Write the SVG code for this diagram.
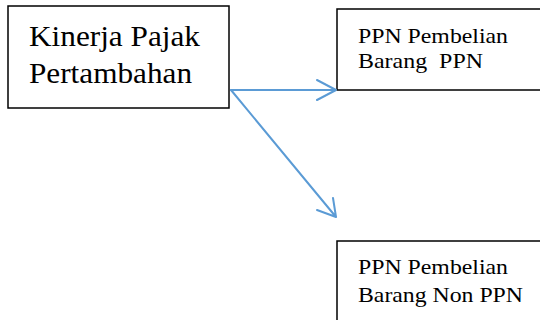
<svg xmlns="http://www.w3.org/2000/svg" width="540" height="320" viewBox="0 0 540 320">
<style>
.box{fill:#fff;stroke:#000;stroke-width:1.5}
.t{font-family:"Liberation Serif","Times New Roman",serif;fill:#000;white-space:pre}
.c{fill:none;stroke:#5B9BD5;stroke-width:2;stroke-linecap:round;stroke-linejoin:round}
</style>
<g id="node-kinerja">
<rect class="box" x="8" y="6" width="221" height="102"/>
<text class="t" font-size="29" x="29" y="46" textLength="171" lengthAdjust="spacingAndGlyphs">Kinerja Pajak</text>
<text class="t" font-size="29" x="29" y="83" textLength="163" lengthAdjust="spacingAndGlyphs">Pertambahan</text>
</g>
<g id="node-ppn">
<rect class="box" x="337" y="9" width="210" height="81"/>
<text class="t" font-size="21" x="358" y="43" textLength="150" lengthAdjust="spacingAndGlyphs">PPN Pembelian</text>
<text class="t" font-size="21" x="358" y="68" xml:space="preserve" textLength="125" lengthAdjust="spacingAndGlyphs">Barang  PPN</text>
</g>
<g id="node-nonppn">
<rect class="box" x="337" y="241" width="210" height="90"/>
<text class="t" font-size="21" x="358" y="274" textLength="150" lengthAdjust="spacingAndGlyphs">PPN Pembelian</text>
<text class="t" font-size="21" x="358" y="302" textLength="165" lengthAdjust="spacingAndGlyphs">Barang Non PPN</text>
</g>
<g id="connectors">
<path class="c" d="M231 90 L336 90 M317 80 L336 90 L317 100"/>
<path class="c" d="M231 90 L336 217 M317 210 L336 217 L333 198"/>
</g>
</svg>
